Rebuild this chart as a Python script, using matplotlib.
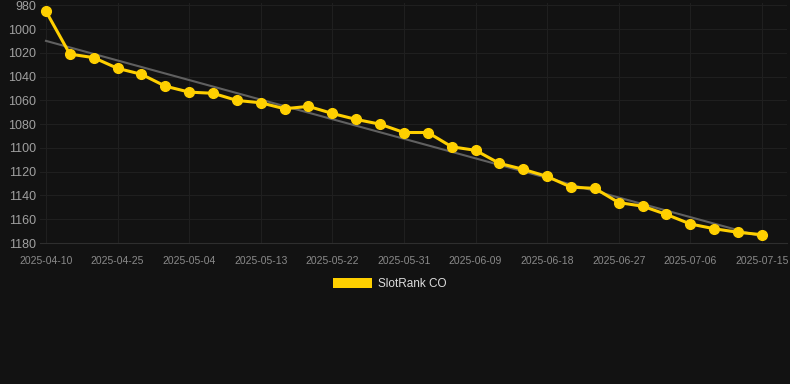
import numpy as np
import matplotlib
matplotlib.use("Agg")
import matplotlib.pyplot as plt
from matplotlib.patches import Patch

plt.rcParams["font.family"] = ["Liberation Sans", "DejaVu Sans"]

dates = ["2025-04-10", "2025-04-19", "2025-04-22", "2025-04-25", "2025-04-28", "2025-05-01",
         "2025-05-04", "2025-05-07", "2025-05-10", "2025-05-13", "2025-05-16", "2025-05-19",
         "2025-05-22", "2025-05-25", "2025-05-28", "2025-05-31", "2025-06-03", "2025-06-06",
         "2025-06-09", "2025-06-12", "2025-06-15", "2025-06-18", "2025-06-21", "2025-06-24",
         "2025-06-27", "2025-06-30", "2025-07-03", "2025-07-06", "2025-07-09", "2025-07-12",
         "2025-07-15"]
rank = [985, 1021, 1024, 1033, 1038, 1048, 1053, 1054, 1060, 1062, 1067, 1065, 1071, 1076,
        1080, 1087, 1087, 1099, 1102, 1113, 1118, 1124, 1133, 1134, 1146, 1149, 1156, 1164,
        1168, 1171, 1173]
yticks = [980, 1000, 1020, 1040, 1060, 1080, 1100, 1120, 1140, 1160, 1180]

bg = "#121212"
yellow = "#FFD000"

fig = plt.figure(figsize=(7.9, 3.84), dpi=100, facecolor=bg)
ax = fig.add_axes([40 / 790, (384 - 243) / 384, 747 / 790, 240 / 384])
ax.set_facecolor(bg)

x = np.arange(len(dates))
# trend line (least squares)
k, b = np.polyfit(x, rank, 1)
ax.plot(x, k * x + b, color="#606060", lw=1.5, zorder=2)
ax.plot(x, rank, color=yellow, lw=2.2, marker="o", ms=7, zorder=3)

ax.set_xlim(-0.25, 31.05)
ax.set_ylim(1180, 978)
ax.set_yticks(yticks)
ax.set_xticks(x[::3])
ax.set_xticklabels(dates[::3])
ax.grid(True, color="#1f1f1f", lw=0.8)
ax.set_axisbelow(True)
for s in ["top", "right", "left"]:
    ax.spines[s].set_visible(False)
ax.spines["bottom"].set_color("#2e2e2e")
ax.tick_params(axis="y", length=0, labelsize=9, colors="#a0a0a0", pad=3)
ax.tick_params(axis="x", length=0, labelsize=7.5, colors="#8a8a8a", pad=9)

fig.legend(handles=[Patch(facecolor=yellow, label="SlotRank CO")], loc="center",
           bbox_to_anchor=(390 / 790, 1 - 284 / 384), frameon=False, fontsize=8.5,
           labelcolor="#dddddd", handlelength=3.3, handleheight=0.9, handletextpad=0.5)

fig.savefig("out.png", dpi=100, facecolor=bg)
